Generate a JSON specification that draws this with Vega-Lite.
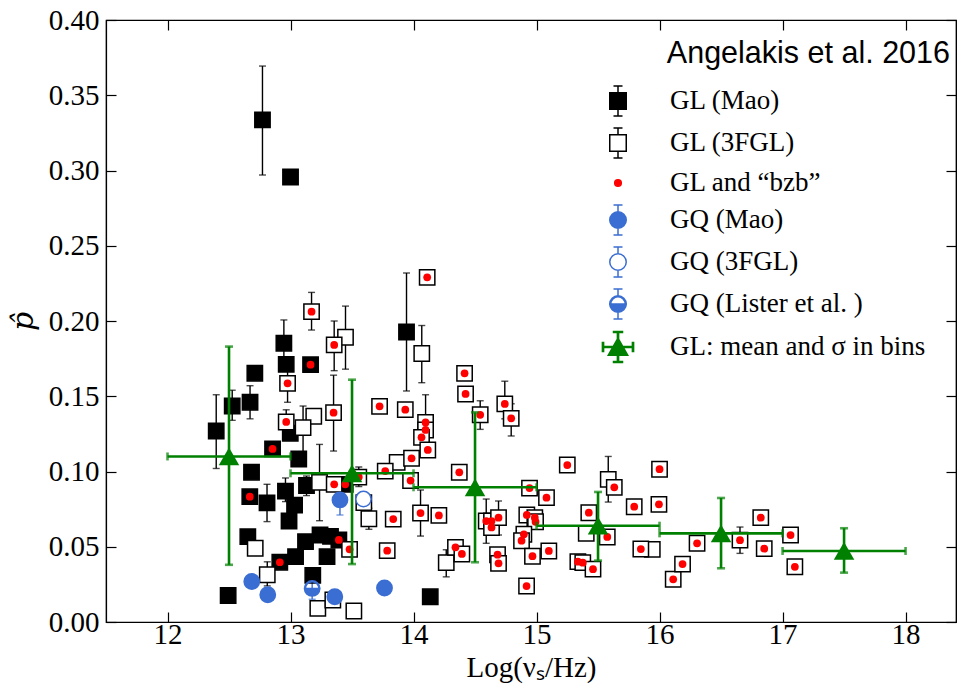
{
  "$schema": "https://vega.github.io/schema/vega-lite/v6.json",
  "width": 850,
  "height": 602,
  "autosize": {"type": "none"},
  "padding": {"left": 106, "top": 20, "right": 1, "bottom": 66},
  "background": "white",
  "title": {"text": "Angelakis et al. 2016", "anchor": "end", "frame": "group", "orient": "top", "offset": -42, "baseline": "alphabetic", "dx": -6, "dy": 45, "font": "Liberation Sans", "fontSize": 30.5, "fontWeight": "normal", "color": "black"},
  "config": {
    "view": {"stroke": "black", "strokeWidth": 1.2},
    "axis": {"grid": false, "domainColor": "black", "domainWidth": 1.2, "tickColor": "black", "tickWidth": 1.2, "labelColor": "black", "titleColor": "black"},
    "legend": {"orient": "none", "legendX": 496, "legendY": 65, "title": null, "padding": 0, "symbolSize": 900, "symbolStrokeWidth": 1.5, "symbolOpacity": 1, "labelFont": "Liberation Serif", "labelFontSize": 27, "labelColor": "black", "labelOffset": 36, "rowPadding": 6, "labelLimit": 400}
  },
  "datasets": {
    "pts": [
      {"x":12.772,"y":0.3336,"cat":"GL (Mao)","lo":0.297,"hi":0.3694,"bzb":0},
      {"x":13.0,"y":0.2957,"cat":"GL (Mao)","bzb":0},
      {"x":13.943,"y":0.1927,"cat":"GL (Mao)","lo":0.1535,"hi":0.2319,"bzb":0},
      {"x":14.136,"y":0.0168,"cat":"GL (Mao)","bzb":0},
      {"x":12.946,"y":0.1852,"cat":"GL (Mao)","lo":0.170,"hi":0.2007,"bzb":0},
      {"x":12.965,"y":0.1712,"cat":"GL (Mao)","bzb":0},
      {"x":13.163,"y":0.171,"cat":"GL (Mao)","bzb":1},
      {"x":12.71,"y":0.1653,"cat":"GL (Mao)","bzb":0},
      {"x":12.526,"y":0.1435,"cat":"GL (Mao)","lo":0.134,"hi":0.154,"bzb":0},
      {"x":12.671,"y":0.146,"cat":"GL (Mao)","lo":0.135,"hi":0.157,"bzb":0},
      {"x":12.396,"y":0.1269,"cat":"GL (Mao)","lo":0.102,"hi":0.151,"bzb":0},
      {"x":12.998,"y":0.1254,"cat":"GL (Mao)","bzb":0},
      {"x":12.854,"y":0.115,"cat":"GL (Mao)","bzb":1},
      {"x":13.067,"y":0.1083,"cat":"GL (Mao)","bzb":0},
      {"x":12.683,"y":0.0995,"cat":"GL (Mao)","bzb":0},
      {"x":12.669,"y":0.0833,"cat":"GL (Mao)","bzb":1},
      {"x":12.809,"y":0.0791,"cat":"GL (Mao)","lo":0.0667,"hi":0.0915,"bzb":0},
      {"x":12.959,"y":0.087,"cat":"GL (Mao)","lo":0.080,"hi":0.0957,"bzb":0},
      {"x":13.033,"y":0.0777,"cat":"GL (Mao)","bzb":0},
      {"x":13.13,"y":0.0907,"cat":"GL (Mao)","lo":0.084,"hi":0.097,"bzb":0},
      {"x":13.445,"y":0.0915,"cat":"GL (Mao)","bzb":1},
      {"x":12.988,"y":0.0671,"cat":"GL (Mao)","bzb":0},
      {"x":12.653,"y":0.0567,"cat":"GL (Mao)","bzb":0},
      {"x":13.122,"y":0.0534,"cat":"GL (Mao)","bzb":0},
      {"x":13.24,"y":0.0578,"cat":"GL (Mao)","bzb":0},
      {"x":13.325,"y":0.0569,"cat":"GL (Mao)","bzb":0},
      {"x":13.393,"y":0.0545,"cat":"GL (Mao)","bzb":1},
      {"x":13.041,"y":0.0434,"cat":"GL (Mao)","bzb":0},
      {"x":13.297,"y":0.0434,"cat":"GL (Mao)","bzb":0},
      {"x":12.913,"y":0.0397,"cat":"GL (Mao)","bzb":1},
      {"x":13.181,"y":0.031,"cat":"GL (Mao)","bzb":0},
      {"x":12.493,"y":0.0176,"cat":"GL (Mao)","bzb":0},
      {"x":13.447,"y":0.1892,"cat":"GL (3FGL)","lo":0.168,"hi":0.2099,"bzb":0},
      {"x":14.067,"y":0.1784,"cat":"GL (3FGL)","lo":0.159,"hi":0.197,"bzb":0},
      {"x":13.189,"y":0.1367,"cat":"GL (3FGL)","bzb":0},
      {"x":13.102,"y":0.1291,"cat":"GL (3FGL)","lo":0.110,"hi":0.1435,"bzb":0},
      {"x":13.236,"y":0.0928,"cat":"GL (3FGL)","lo":0.0673,"hi":0.118,"bzb":0},
      {"x":12.713,"y":0.049,"cat":"GL (3FGL)","bzb":0},
      {"x":12.811,"y":0.0314,"cat":"GL (3FGL)","lo":0.024,"hi":0.040,"bzb":0},
      {"x":13.222,"y":0.0091,"cat":"GL (3FGL)","bzb":0},
      {"x":13.344,"y":0.0146,"cat":"GL (3FGL)","bzb":0},
      {"x":13.515,"y":0.0073,"cat":"GL (3FGL)","bzb":0},
      {"x":13.637,"y":0.0686,"cat":"GL (3FGL)","lo":0.0616,"hi":0.0756,"bzb":0},
      {"x":13.596,"y":0.0793,"cat":"GL (3FGL)","bzb":0},
      {"x":13.867,"y":0.1061,"cat":"GL (3FGL)","bzb":0},
      {"x":14.266,"y":0.0394,"cat":"GL (3FGL)","lo":0.030,"hi":0.048,"bzb":0},
      {"x":15.583,"y":0.0948,"cat":"GL (3FGL)","lo":0.0797,"hi":0.110,"bzb":0},
      {"x":15.404,"y":0.0589,"cat":"GL (3FGL)","bzb":0},
      {"x":15.941,"y":0.0483,"cat":"GL (3FGL)","bzb":0},
      {"x":13.171,"y":0.2062,"cat":"GL (3FGL)","lo":0.194,"hi":0.219,"bzb":1},
      {"x":13.355,"y":0.1841,"cat":"GL (3FGL)","lo":0.167,"hi":0.200,"bzb":1},
      {"x":12.976,"y":0.1586,"cat":"GL (3FGL)","lo":0.146,"hi":0.171,"bzb":1},
      {"x":12.965,"y":0.1329,"cat":"GL (3FGL)","lo":0.125,"hi":0.141,"bzb":1},
      {"x":13.35,"y":0.1391,"cat":"GL (3FGL)","lo":0.1136,"hi":0.164,"bzb":1},
      {"x":13.724,"y":0.1433,"cat":"GL (3FGL)","bzb":1},
      {"x":13.933,"y":0.1411,"cat":"GL (3FGL)","bzb":1},
      {"x":14.098,"y":0.1326,"cat":"GL (3FGL)","lo":0.125,"hi":0.151,"bzb":1},
      {"x":14.098,"y":0.1276,"cat":"GL (3FGL)","bzb":1},
      {"x":14.065,"y":0.1227,"cat":"GL (3FGL)","bzb":1},
      {"x":14.116,"y":0.1143,"cat":"GL (3FGL)","bzb":1},
      {"x":14.111,"y":0.229,"cat":"GL (3FGL)","bzb":1},
      {"x":14.415,"y":0.1652,"cat":"GL (3FGL)","bzb":1},
      {"x":14.423,"y":0.1515,"cat":"GL (3FGL)","bzb":1},
      {"x":14.542,"y":0.1377,"cat":"GL (3FGL)","lo":0.128,"hi":0.147,"bzb":1},
      {"x":14.742,"y":0.1449,"cat":"GL (3FGL)","lo":0.135,"hi":0.160,"bzb":1},
      {"x":14.794,"y":0.1353,"cat":"GL (3FGL)","lo":0.1236,"hi":0.145,"bzb":1},
      {"x":13.984,"y":0.1088,"cat":"GL (3FGL)","bzb":1},
      {"x":13.77,"y":0.1003,"cat":"GL (3FGL)","bzb":1},
      {"x":13.976,"y":0.094,"cat":"GL (3FGL)","bzb":1},
      {"x":14.372,"y":0.0995,"cat":"GL (3FGL)","bzb":1},
      {"x":13.355,"y":0.0915,"cat":"GL (3FGL)","bzb":1},
      {"x":13.555,"y":0.0963,"cat":"GL (3FGL)","lo":0.090,"hi":0.103,"bzb":1},
      {"x":13.48,"y":0.0483,"cat":"GL (3FGL)","bzb":1},
      {"x":13.835,"y":0.0684,"cat":"GL (3FGL)","bzb":1},
      {"x":14.057,"y":0.0724,"cat":"GL (3FGL)","lo":0.0571,"hi":0.0877,"bzb":1},
      {"x":14.206,"y":0.0708,"cat":"GL (3FGL)","bzb":1},
      {"x":13.786,"y":0.0474,"cat":"GL (3FGL)","bzb":1},
      {"x":14.943,"y":0.089,"cat":"GL (3FGL)","bzb":1},
      {"x":15.081,"y":0.0826,"cat":"GL (3FGL)","bzb":1},
      {"x":14.591,"y":0.0671,"cat":"GL (3FGL)","lo":0.0523,"hi":0.0817,"bzb":1},
      {"x":14.634,"y":0.0671,"cat":"GL (3FGL)","bzb":1},
      {"x":14.634,"y":0.0628,"cat":"GL (3FGL)","bzb":1},
      {"x":14.691,"y":0.0693,"cat":"GL (3FGL)","lo":0.0578,"hi":0.0804,"bzb":1},
      {"x":14.921,"y":0.0711,"cat":"GL (3FGL)","bzb":1},
      {"x":14.986,"y":0.0693,"cat":"GL (3FGL)","bzb":1},
      {"x":14.992,"y":0.0666,"cat":"GL (3FGL)","bzb":1},
      {"x":14.897,"y":0.0583,"cat":"GL (3FGL)","bzb":1},
      {"x":14.878,"y":0.054,"cat":"GL (3FGL)","bzb":1},
      {"x":15.1,"y":0.0472,"cat":"GL (3FGL)","bzb":1},
      {"x":14.967,"y":0.0437,"cat":"GL (3FGL)","bzb":1},
      {"x":14.683,"y":0.0447,"cat":"GL (3FGL)","bzb":1},
      {"x":14.691,"y":0.039,"cat":"GL (3FGL)","bzb":1},
      {"x":14.341,"y":0.0496,"cat":"GL (3FGL)","bzb":1},
      {"x":14.393,"y":0.0452,"cat":"GL (3FGL)","bzb":1},
      {"x":14.919,"y":0.0239,"cat":"GL (3FGL)","bzb":1},
      {"x":15.25,"y":0.1043,"cat":"GL (3FGL)","bzb":1},
      {"x":15.632,"y":0.0895,"cat":"GL (3FGL)","bzb":1},
      {"x":16.0,"y":0.1015,"cat":"GL (3FGL)","bzb":1},
      {"x":15.794,"y":0.0766,"cat":"GL (3FGL)","bzb":1},
      {"x":15.995,"y":0.0782,"cat":"GL (3FGL)","bzb":1},
      {"x":15.425,"y":0.0726,"cat":"GL (3FGL)","bzb":1},
      {"x":15.575,"y":0.0565,"cat":"GL (3FGL)","bzb":1},
      {"x":15.848,"y":0.0485,"cat":"GL (3FGL)","bzb":1},
      {"x":15.336,"y":0.0401,"cat":"GL (3FGL)","bzb":1},
      {"x":15.376,"y":0.0394,"cat":"GL (3FGL)","bzb":1},
      {"x":15.459,"y":0.0351,"cat":"GL (3FGL)","bzb":1},
      {"x":16.111,"y":0.0284,"cat":"GL (3FGL)","bzb":1},
      {"x":16.187,"y":0.0385,"cat":"GL (3FGL)","bzb":1},
      {"x":16.305,"y":0.0523,"cat":"GL (3FGL)","bzb":1},
      {"x":16.654,"y":0.0544,"cat":"GL (3FGL)","lo":0.0456,"hi":0.0631,"bzb":1},
      {"x":16.823,"y":0.0693,"cat":"GL (3FGL)","bzb":1},
      {"x":16.851,"y":0.0487,"cat":"GL (3FGL)","bzb":1},
      {"x":17.065,"y":0.0578,"cat":"GL (3FGL)","bzb":1},
      {"x":17.1,"y":0.0367,"cat":"GL (3FGL)","bzb":1},
      {"x":13.402,"y":0.0811,"cat":"GQ (Mao)","lo":0.0711,"hi":0.0878,"bzb":0},
      {"x":12.685,"y":0.0269,"cat":"GQ (Mao)","bzb":0},
      {"x":12.815,"y":0.0181,"cat":"GQ (Mao)","bzb":0},
      {"x":13.36,"y":0.0168,"cat":"GQ (Mao)","bzb":0},
      {"x":13.764,"y":0.0226,"cat":"GQ (Mao)","bzb":0},
      {"x":13.593,"y":0.0817,"cat":"GQ (3FGL)","bzb":0},
      {"x":13.176,"y":0.0223,"cat":"GQ (Lister et al. )","lo":0.0151,"hi":0.0288,"bzb":0}
    ],
    "bins": [
      {"x":12.5,"y":0.110,"xlo":12,"xhi":13,"ylo":0.038,"yhi":0.183},
      {"x":13.5,"y":0.0988,"xlo":13,"xhi":14,"ylo":0.0385,"yhi":0.161},
      {"x":14.5,"y":0.0895,"xlo":14,"xhi":15,"ylo":0.0397,"yhi":0.1393},
      {"x":15.5,"y":0.064,"xlo":15,"xhi":16,"ylo":0.0408,"yhi":0.0864},
      {"x":16.5,"y":0.0589,"xlo":16,"xhi":17,"ylo":0.0357,"yhi":0.0824},
      {"x":17.5,"y":0.0472,"xlo":17,"xhi":18,"ylo":0.0328,"yhi":0.0623}
    ]
  },
  "resolve": {"axis": {"x": "independent", "y": "independent"}, "scale": {"shape": "independent", "fill": "independent", "stroke": "independent"}},
  "layer": [
    {
      "data": {"name": "pts"},
      "transform": [{"filter": "isValid(datum.lo) && indexof(datum.cat, 'GL') == 0"}],
      "mark": {"type": "errorbar", "ticks": true, "size": 7, "thickness": 1.4, "color": "black"},
      "encoding": {
        "x": {"field": "x", "type": "quantitative", "scale": {"domain": [11.5, 18.41], "nice": false, "zero": false}, "axis": null},
        "y": {"field": "lo", "type": "quantitative", "scale": {"domain": [0, 0.4], "nice": false, "zero": false}, "axis": null},
        "y2": {"field": "hi"}
      }
    },
    {
      "data": {"name": "pts"},
      "transform": [{"filter": "isValid(datum.lo) && indexof(datum.cat, 'GQ') == 0"}],
      "mark": {"type": "errorbar", "ticks": true, "size": 7, "thickness": 1.4, "color": "#3b6ed2"},
      "encoding": {
        "x": {"field": "x", "type": "quantitative", "scale": {"domain": [11.5, 18.41], "nice": false, "zero": false}, "axis": null},
        "y": {"field": "lo", "type": "quantitative", "scale": {"domain": [0, 0.4], "nice": false, "zero": false}, "axis": null},
        "y2": {"field": "hi"}
      }
    },
    {
      "data": {"name": "pts"},
      "mark": {"type": "point", "filled": true, "opacity": 1, "strokeWidth": 1.5, "size": 235},
      "encoding": {
        "x": {"field": "x", "type": "quantitative", "scale": {"domain": [11.5, 18.41], "nice": false, "zero": false},
          "axis": {"orient": "bottom", "values": [12, 13, 14, 15, 16, 17, 18], "format": "d", "title": "Log(νₛ/Hz)", "labelFont": "Liberation Serif", "labelFontSize": 29, "titleFont": "Liberation Serif", "titleFontSize": 29, "titleFontWeight": "normal", "tickSize": -10, "labelPadding": 8, "titlePadding": 4}},
        "y": {"field": "y", "type": "quantitative", "scale": {"domain": [0, 0.4], "nice": false, "zero": false},
          "axis": {"orient": "left", "values": [0, 0.05, 0.1, 0.15, 0.2, 0.25, 0.3, 0.35, 0.4], "format": ".2f", "title": "p̂", "labelFont": "Liberation Serif", "labelFontSize": 29, "titleFont": "DejaVu Serif", "titleFontSize": 30, "titleFontStyle": "italic", "titleFontWeight": "normal", "tickSize": -10, "labelPadding": 17, "titlePadding": 10}},
        "shape": {"field": "cat", "type": "nominal", "legend": null,
          "scale": {"domain": ["GL (Mao)", "GL (3FGL)", "GQ (Mao)", "GQ (3FGL)", "GQ (Lister et al. )"],
            "range": ["square", "square", "circle", "circle", "M-1,0A1,1 0 0,0 1,0Z M1,0A1,1 0 0,0 -1,0L-0.88,0A0.88,0.88 0 0,1 0.88,0Z"]}},
        "fill": {"field": "cat", "type": "nominal", "legend": null,
          "scale": {"domain": ["GL (Mao)", "GL (3FGL)", "GQ (Mao)", "GQ (3FGL)", "GQ (Lister et al. )"],
            "range": ["black", "white", "#3b6ed2", "white", "#3b6ed2"]}},
        "stroke": {"field": "cat", "type": "nominal", "legend": null,
          "scale": {"domain": ["GL (Mao)", "GL (3FGL)", "GQ (Mao)", "GQ (3FGL)", "GQ (Lister et al. )"],
            "range": ["black", "black", "#3b6ed2", "#3b6ed2", "#3b6ed2"]}}
      }
    },
    {
      "data": {"name": "pts"},
      "transform": [{"filter": "datum.bzb == 1"}],
      "mark": {"type": "point", "filled": true, "shape": "circle", "size": 60, "color": "red", "opacity": 1},
      "encoding": {
        "x": {"field": "x", "type": "quantitative", "scale": {"domain": [11.5, 18.41], "nice": false, "zero": false}, "axis": null},
        "y": {"field": "y", "type": "quantitative", "scale": {"domain": [0, 0.4], "nice": false, "zero": false}, "axis": null}
      }
    },
    {
      "data": {"name": "bins"},
      "mark": {"type": "errorbar", "ticks": true, "size": 8, "thickness": 2.6, "color": "#008000"},
      "encoding": {
        "x": {"field": "x", "type": "quantitative", "scale": {"domain": [11.5, 18.41], "nice": false, "zero": false}, "axis": null},
        "y": {"field": "ylo", "type": "quantitative", "scale": {"domain": [0, 0.4], "nice": false, "zero": false}, "axis": null},
        "y2": {"field": "yhi"}
      }
    },
    {
      "data": {"name": "bins"},
      "mark": {"type": "errorbar", "ticks": true, "size": 8, "thickness": 2.6, "color": "#008000"},
      "encoding": {
        "y": {"field": "y", "type": "quantitative", "scale": {"domain": [0, 0.4], "nice": false, "zero": false}, "axis": null},
        "x": {"field": "xlo", "type": "quantitative", "scale": {"domain": [11.5, 18.41], "nice": false, "zero": false}, "axis": null},
        "x2": {"field": "xhi"}
      }
    },
    {
      "data": {"name": "bins"},
      "mark": {"type": "point", "filled": true, "shape": "triangle-up", "size": 420, "color": "#008000", "opacity": 1},
      "encoding": {
        "x": {"field": "x", "type": "quantitative", "scale": {"domain": [11.5, 18.41], "nice": false, "zero": false},
          "axis": {"orient": "top", "values": [12, 13, 14, 15, 16, 17, 18], "labels": false, "title": null, "tickSize": -10}},
        "y": {"field": "y", "type": "quantitative", "scale": {"domain": [0, 0.4], "nice": false, "zero": false},
          "axis": {"orient": "right", "values": [0, 0.05, 0.1, 0.15, 0.2, 0.25, 0.3, 0.35, 0.4], "labels": false, "title": null, "tickSize": -10}}
      }
    },
    {
      "data": {"name": "pts"},
      "transform": [{"filter": "false"}],
      "mark": {"type": "point", "filled": true, "opacity": 1, "strokeWidth": 1.5, "size": 900},
      "encoding": {
        "x": {"field": "x", "type": "quantitative", "scale": {"domain": [11.5, 18.41], "nice": false, "zero": false}, "axis": null},
        "y": {"field": "y", "type": "quantitative", "scale": {"domain": [0, 0.4], "nice": false, "zero": false}, "axis": null},
        "shape": {"field": "cat", "type": "nominal",
          "scale": {"domain": ["GL (Mao)", "GL (3FGL)", "GL and “bzb”", "GQ (Mao)", "GQ (3FGL)", "GQ (Lister et al. )", "GL: mean and σ in bins"],
            "range": [
              "M-0.55,-0.55H0.55V0.55H-0.55Z M0,-0.55V-1 M-0.3,-1H0.3 M0,0.55V1 M-0.3,1H0.3",
              "M-0.55,-0.55H0.55V0.55H-0.55Z M0,-0.55V-1 M-0.3,-1H0.3 M0,0.55V1 M-0.3,1H0.3",
              "M0.22,0A0.22,0.22 0 1,1 -0.22,0A0.22,0.22 0 1,1 0.22,0Z",
              "M0.55,0A0.55,0.55 0 1,1 -0.55,0A0.55,0.55 0 1,1 0.55,0Z M0,-0.55V-1 M-0.3,-1H0.3 M0,0.55V1 M-0.3,1H0.3",
              "M0.55,0A0.55,0.55 0 1,1 -0.55,0A0.55,0.55 0 1,1 0.55,0Z M0,-0.55V-1 M-0.3,-1H0.3 M0,0.55V1 M-0.3,1H0.3",
              "M-0.55,0A0.55,0.55 0 0,0 0.55,0Z M0.55,0A0.55,0.55 0 0,0 -0.55,0L-0.48,0A0.48,0.48 0 0,1 0.48,0Z M0,-0.55V-1 M-0.3,-1H0.3 M0,0.55V1 M-0.3,1H0.3",
              "M0,-0.6L0.65,0.55L-0.65,0.55Z M-1,-0.04H1V0.04H-1Z M-1.04,-0.3H-0.96V0.3H-1.04Z M0.96,-0.3H1.04V0.3H0.96Z M-0.04,-1H0.04V1H-0.04Z M-0.3,-1.04H0.3V-0.96H-0.3Z M-0.3,0.96H0.3V1.04H-0.3Z"
            ]}},
        "fill": {"field": "cat", "type": "nominal",
          "scale": {"domain": ["GL (Mao)", "GL (3FGL)", "GL and “bzb”", "GQ (Mao)", "GQ (3FGL)", "GQ (Lister et al. )", "GL: mean and σ in bins"],
            "range": ["black", "white", "red", "#3b6ed2", "white", "#3b6ed2", "#008000"]}},
        "stroke": {"field": "cat", "type": "nominal",
          "scale": {"domain": ["GL (Mao)", "GL (3FGL)", "GL and “bzb”", "GQ (Mao)", "GQ (3FGL)", "GQ (Lister et al. )", "GL: mean and σ in bins"],
            "range": ["black", "black", "red", "#3b6ed2", "#3b6ed2", "#3b6ed2", "#008000"]}}
      }
    }
  ]
}
